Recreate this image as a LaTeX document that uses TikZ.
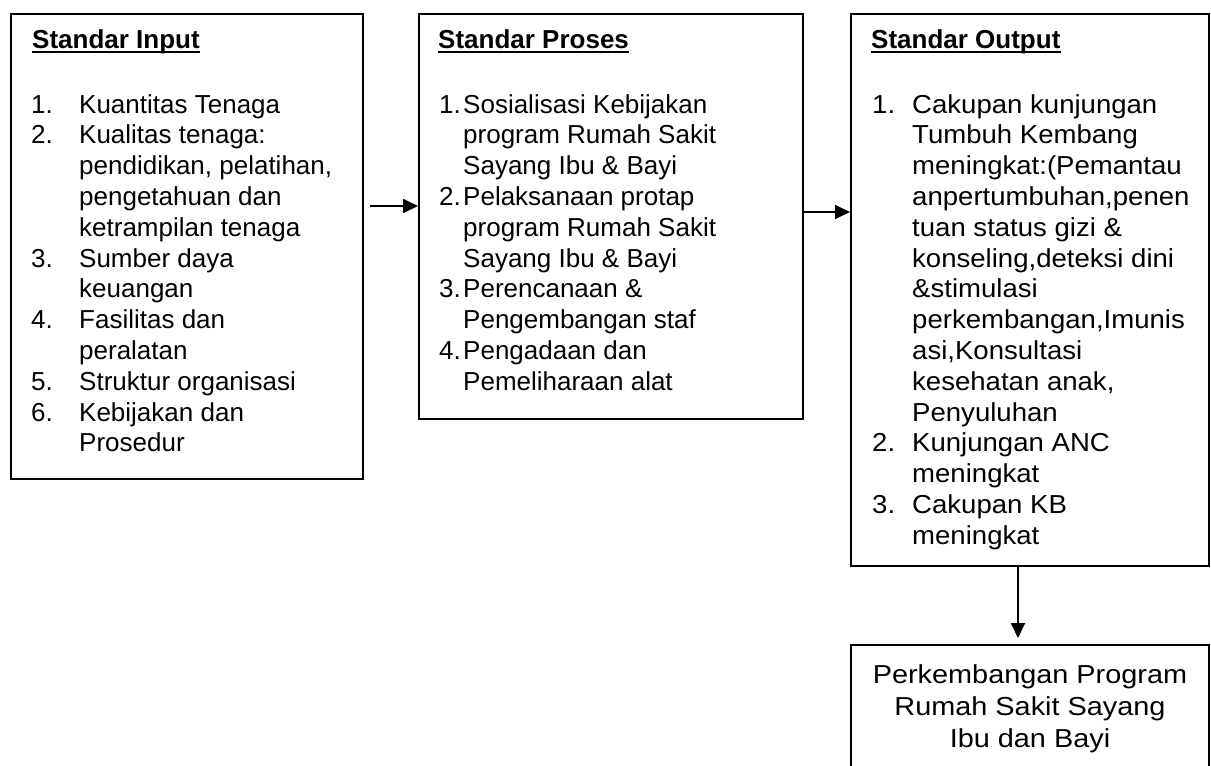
\documentclass[tikz,border=0pt]{standalone}
\usepackage{fontspec}
\setmainfont{Liberation Sans}
\newfontfamily\widefont[FakeStretch=1.06]{Liberation Sans}
\newfontfamily\widerfont[FakeStretch=1.11]{Liberation Sans}
\usetikzlibrary{arrows.meta}
\begin{document}
\begin{tikzpicture}[x=1pt,y=-1pt,
  box/.style={draw,line width=1.8pt,inner sep=0pt,anchor=north west},
  head/.style={anchor=base west,inner sep=0pt,font=\fontsize{26}{30.8}\selectfont\bfseries},
  body/.style={anchor=base west,inner sep=0pt,align=left,font=\fontsize{26}{30.8}\selectfont},
  wbody/.style={anchor=base west,inner sep=0pt,align=left,font=\fontsize{26}{30.8}\selectfont\widefont},
  uline/.style={line width=2pt},
  arr/.style={line width=1.8pt,-{Triangle[length=15pt,width=14pt]}}]
\useasboundingbox (0,0) rectangle (1211,766);
\fill[white] (0,0) rectangle (1211,766);

% boxes
\node[box,minimum width=352pt,minimum height=465pt] (input) at (10,13) {};
\node[box,minimum width=384pt,minimum height=405pt] (proses) at (418,13) {};
\node[box,minimum width=358pt,minimum height=552pt] (output) at (850,13) {};
\node[box,minimum width=358pt,minimum height=130pt] (hasil) at (850,644) {};

% headings
\node[head] (hin) at (32,48) {Standar Input};
\node[head] (hpr) at (438,48) {Standar Proses};
\node[head] (hout) at (871,48) {Standar Output};
\draw[uline] ([yshift=-4pt]hin.base west) -- ([yshift=-4pt]hin.base east);
\draw[uline] ([yshift=-4pt]hpr.base west) -- ([yshift=-4pt]hpr.base east);
\draw[uline] ([yshift=-4pt]hout.base west) -- ([yshift=-4pt]hout.base east);

% lists
\node[body] (lin) at (31,113) {\begin{tabular}[t]{@{}p{48pt}@{}l@{}}
1.&Kuantitas Tenaga\\
2.&Kualitas tenaga:\\
&pendidikan, pelatihan,\\
&pengetahuan dan\\
&ketrampilan tenaga\\
3.&Sumber daya\\
&keuangan\\
4.&Fasilitas dan\\
&peralatan\\
5.&Struktur organisasi\\
6.&Kebijakan dan\\
&Prosedur
\end{tabular}};

\node[body] (lpr) at (439,113) {\begin{tabular}[t]{@{}p{24pt}@{}l@{}}
1.&Sosialisasi Kebijakan\\
&program Rumah Sakit\\
&Sayang Ibu \& Bayi\\
2.&Pelaksanaan protap\\
&program Rumah Sakit\\
&Sayang Ibu \& Bayi\\
3.&Perencanaan \&\\
&Pengembangan staf\\
4.&Pengadaan dan\\
&Pemeliharaan alat
\end{tabular}};

\node[wbody] (lout) at (872,113) {\begin{tabular}[t]{@{}p{40pt}@{}l@{}}
1.&Cakupan kunjungan\\
&Tumbuh Kembang\\
&meningkat:(Pemantau\\
&anpertumbuhan,penen\\
&tuan status gizi \&\\
&konseling,deteksi dini\\
&\&stimulasi\\
&perkembangan,Imunis\\
&asi,Konsultasi\\
&kesehatan anak,\\
&Penyuluhan\\
2.&Kunjungan ANC\\
&meningkat\\
3.&Cakupan KB\\
&meningkat
\end{tabular}};

\node[anchor=base,inner sep=0pt,font=\fontsize{26}{32}\selectfont\widerfont] (lhasil) at (1030,683)
  {\begin{tabular}[t]{@{}c@{}}Perkembangan Program\\Rumah Sakit Sayang\\Ibu dan Bayi\end{tabular}};

% connectors
\coordinate (a1) at (370,206);
\coordinate (a2y) at (0,212);
\coordinate (a3x) at (1018,0);
\draw[arr] (a1) -- (a1 -| proses.west);
\draw[arr] (proses.east |- a2y) -- (output.west |- a2y);
\draw[arr] (output.south -| a3x) -- ([yshift=6pt]hasil.north -| a3x);
\end{tikzpicture}
\end{document}
